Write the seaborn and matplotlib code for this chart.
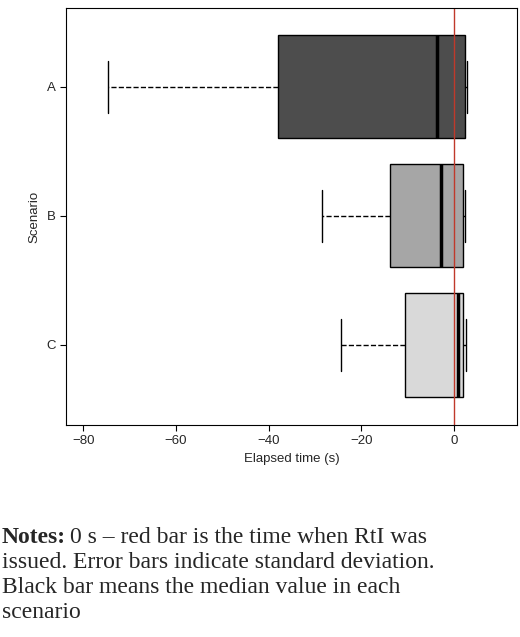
import matplotlib
matplotlib.use("Agg")
import matplotlib.pyplot as plt
import seaborn as sns
import pandas as pd

# five-number summaries (min, q1, median, q3, max)
scenarios = ["A", "B", "C"]
low = [-74.6, -28.5, -24.4]
q1 = [-37.9, -13.8, -10.6]
median = [-3.7, -2.8, 0.9]
q3 = [2.4, 1.9, 1.9]
high = [2.8, 2.4, 2.6]
colors = ["#4d4d4d", "#a6a6a6", "#d9d9d9"]

rows = []
for i, s in enumerate(scenarios):
    for v in [low[i], q1[i], median[i], q3[i], high[i]]:
        rows.append({"Scenario": s, "Elapsed": v})
df = pd.DataFrame(rows)

sns.set_style("white")
plt.rcParams["font.family"] = ["Liberation Sans", "DejaVu Sans"]

fig = plt.figure(figsize=(5.2, 6.37), dpi=100)
ax = fig.add_axes([66 / 520, 1 - 425 / 637, 451 / 520, 417 / 637])

sns.boxplot(data=df, x="Elapsed", y="Scenario", hue="Scenario", order=scenarios,
            palette=colors, legend=False, whis=(0, 100), width=0.8, ax=ax,
            linecolor="black", linewidth=1,
            whiskerprops={"linestyle": "--"},
            medianprops={"linewidth": 2.5, "color": "black"})

ax.axvline(0, color="#c0392b", linewidth=1)
ax.set_xlim(-83.7, 13.6)
ax.set_ylim(2.62, -0.61)
ax.set_xticks([-80, -60, -40, -20, 0])
ax.set_xticklabels(["\u221280", "\u221260", "\u221240", "\u221220", "0"])
ax.set_xlabel("Elapsed time (s)", fontsize=9.5)
ax.set_ylabel("Scenario", fontsize=9.5)
ax.tick_params(axis="both", labelsize=9.5, length=4, color="black", bottom=True, left=True)
for sp in ax.spines.values():
    sp.set_color("black")
    sp.set_linewidth(0.8)

note_font = ["Liberation Serif", "DejaVu Serif"]
fs = 17
t = fig.text(2 / 520, 1 - 543 / 637, "Notes:", family=note_font, fontsize=fs,
             fontweight="bold", va="baseline")
fig.canvas.draw()
bb = t.get_window_extent()
fig.text(bb.x1 / 520 + 0.008, 1 - 543 / 637, "0 s \u2013 red bar is the time when RtI was",
         family=note_font, fontsize=fs, va="baseline")
for j, line in enumerate(["issued. Error bars indicate standard deviation.",
                          "Black bar means the median value in each",
                          "scenario"]):
    fig.text(2 / 520, 1 - (568 + 25 * j) / 637, line, family=note_font,
             fontsize=fs, va="baseline")

fig.savefig("out.png", dpi=100)
